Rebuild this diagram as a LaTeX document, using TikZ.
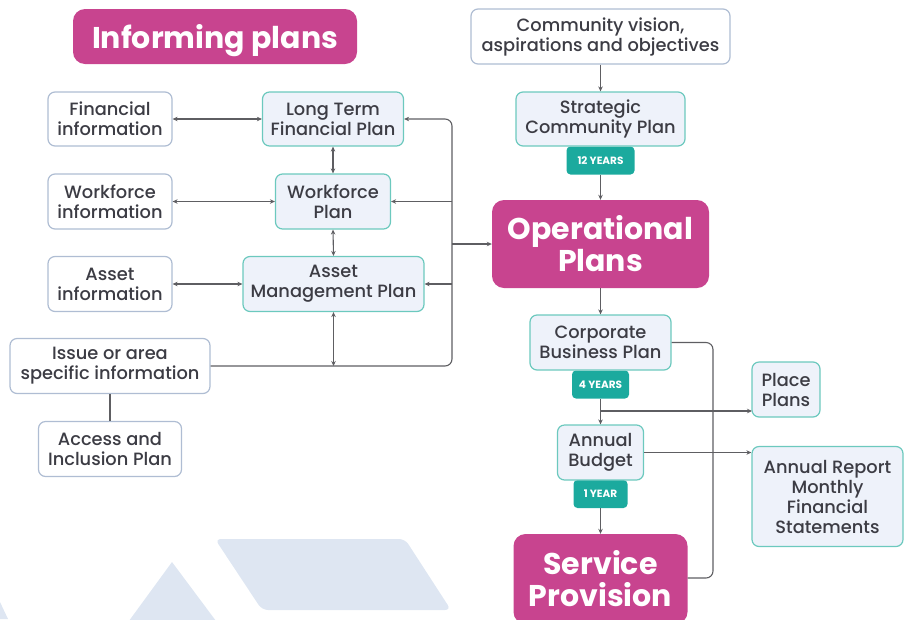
\documentclass[tikz,border=0pt]{standalone}
\usepackage{fontspec}
\setmainfont{Poppins}[UprightFont=* Medium, BoldFont=* Bold]
\usetikzlibrary{arrows.meta,calc}
\definecolor{mag}{HTML}{C8448F}
\definecolor{tealc}{HTML}{1BAA9E}
\definecolor{tealb}{HTML}{6CC9BE}
\definecolor{infob}{HTML}{AFBDD3}
\definecolor{planf}{HTML}{EEF2FA}
\definecolor{txt}{HTML}{3C3C44}
\definecolor{linec}{HTML}{5E5E62}
\definecolor{bgshape}{HTML}{DEE6F2}
\newcommand{\bodyfont}{\fontsize{17.8}{20}\selectfont}
\newcommand{\headfont}{\fontsize{30}{32}\selectfont\bfseries}
\newcommand{\tagfont}{\fontsize{10.5}{11}\selectfont\bfseries}
\tikzset{
  base/.style={rounded corners=7, line width=1.2pt, align=center, inner sep=0pt, text=txt, font=\bodyfont},
  infobox/.style={base, draw=infob, fill=white},
  planbox/.style={base, draw=tealb, fill=planf},
  bigbox/.style={rounded corners=12, fill=mag, text=white, align=center, inner sep=0pt, font=\headfont},
  tagbox/.style={rounded corners=4, fill=tealc, text=white, inner sep=0pt, font=\tagfont},
  conn/.style={draw=linec, line width=1.1pt},
  arr/.style={conn, -{Stealth[length=5pt,width=4.5pt]}},
  darr/.style={conn, {Stealth[length=5pt,width=4.5pt]}-{Stealth[length=5pt,width=4.5pt]}},
}
\begin{document}
\begin{tikzpicture}[x=1pt,y=-1pt]
\useasboundingbox (0,0) rectangle (909,619);
% background shapes
\fill[bgshape, rounded corners=6] (215,539) -- (405,539) -- (451,610) -- (262,610) -- cycle;
\fill[bgshape] (172,562) -- (126,625) -- (219,625) -- cycle;
\fill[bgshape] (0,602) -- (8,619) -- (0,619) -- cycle;

% nodes
\node[bigbox, minimum width=284, minimum height=55, text depth=0pt] (inf) at (215,36.5) {Informing plans};
\node[infobox, minimum width=124, minimum height=54] (fin) at (110,119) {Financial\\information};
\node[planbox, minimum width=141, minimum height=54] (ltfp) at (333,119) {Long Term\\Financial Plan};
\node[infobox, minimum width=124, minimum height=55] (wfi) at (110,201.5) {Workforce\\information};
\node[planbox, minimum width=115, minimum height=55] (wp) at (333,201.5) {Workforce\\Plan};
\node[infobox, minimum width=124, minimum height=55] (ai) at (110,284) {Asset\\information};
\node[planbox, minimum width=181, minimum height=55] (amp) at (333.5,284) {Asset\\Management Plan};
\node[infobox, minimum width=200, minimum height=55] (iss) at (110,366) {Issue or area\\specific information};
\node[infobox, minimum width=143, minimum height=55] (acc) at (110,449) {Access and\\Inclusion Plan};

\node[infobox, minimum width=259, minimum height=55] (cv) at (600.5,36.5) {Community vision,\\aspirations and objectives};
\node[tagbox, minimum width=68, minimum height=28] (t12) at (600.5,160.5) {12 YEARS};
\node[planbox, minimum width=169, minimum height=54] (scp) at (600.5,119) {Strategic\\Community Plan};
\node[bigbox, minimum width=217, minimum height=88] (ops) at (600.5,244) {Operational\\Plans};
\node[tagbox, minimum width=57, minimum height=28] (t4) at (600.5,384.5) {4 YEARS};
\node[planbox, minimum width=141, minimum height=55] (cbp) at (600.5,342.5) {Corporate\\Business Plan};
\node[planbox, minimum width=68, minimum height=55] (pp) at (786,389.5) {Place\\Plans};
\node[tagbox, minimum width=54, minimum height=28] (t1) at (600.5,494) {1 YEAR};
\node[planbox, minimum width=86, minimum height=55] (ab) at (600.5,452.5) {Annual\\Budget};
\node[planbox, minimum width=151, minimum height=100] (ar) at (827.5,496.5) {Annual Report\\Monthly\\Financial\\Statements};
\node[bigbox, minimum width=174, minimum height=90] (sp) at (600.5,579) {Service\\Provision};

% coordinates
\coordinate (busb) at (452,366);
\coordinate (bust) at (452,119);
\coordinate (buswp) at (452,201.5);
\coordinate (busamp) at (452,284);
\coordinate (busops) at (452,244);
\coordinate (ampfoot) at (333.5,366);
\coordinate (ppsplit) at (600.5,411);
\coordinate (pptarget) at (752,411);
\coordinate (loopa) at (713,342.5);
\coordinate (loopb) at (713,578);
\coordinate (spin) at (687.5,578);

% left connectors
\draw[darr] (fin.east) -- (ltfp.west);
\draw[darr] (wfi.east) -- (wp.west);
\draw[darr] (ai.east) -- (amp.west);
\draw[darr] (ltfp.south) -- (wp.north);
\draw[darr] (wp.south) -- (amp.north);
\draw[darr] (ampfoot) -- (amp.south);
\draw[arr, rounded corners=7] (iss.east) -- (busb) -- (bust) -- (ltfp.east);
\draw[arr] (buswp) -- (wp.east);
\draw[arr] (busamp) -- (amp.east);
\draw[arr] (busops) -- (ops.west);
\draw[conn] (iss.south) -- (acc.north);

% right connectors
\draw[arr] (cv.south) -- (scp.north);
\draw[arr] (t12.south) -- (ops.north);
\draw[arr] (ops.south) -- (cbp.north);
\draw[arr] (t4.south) -- (ab.north);
\draw[arr] (ppsplit) -- (pptarget);
\draw[arr] (ab.east) -- (ab.east -| ar.west);
\draw[arr] (t1.south) -- (sp.north);
\draw[conn, rounded corners=7] (cbp.east) -- (loopa) -- (loopb) -- (spin);
\end{tikzpicture}
\end{document}
